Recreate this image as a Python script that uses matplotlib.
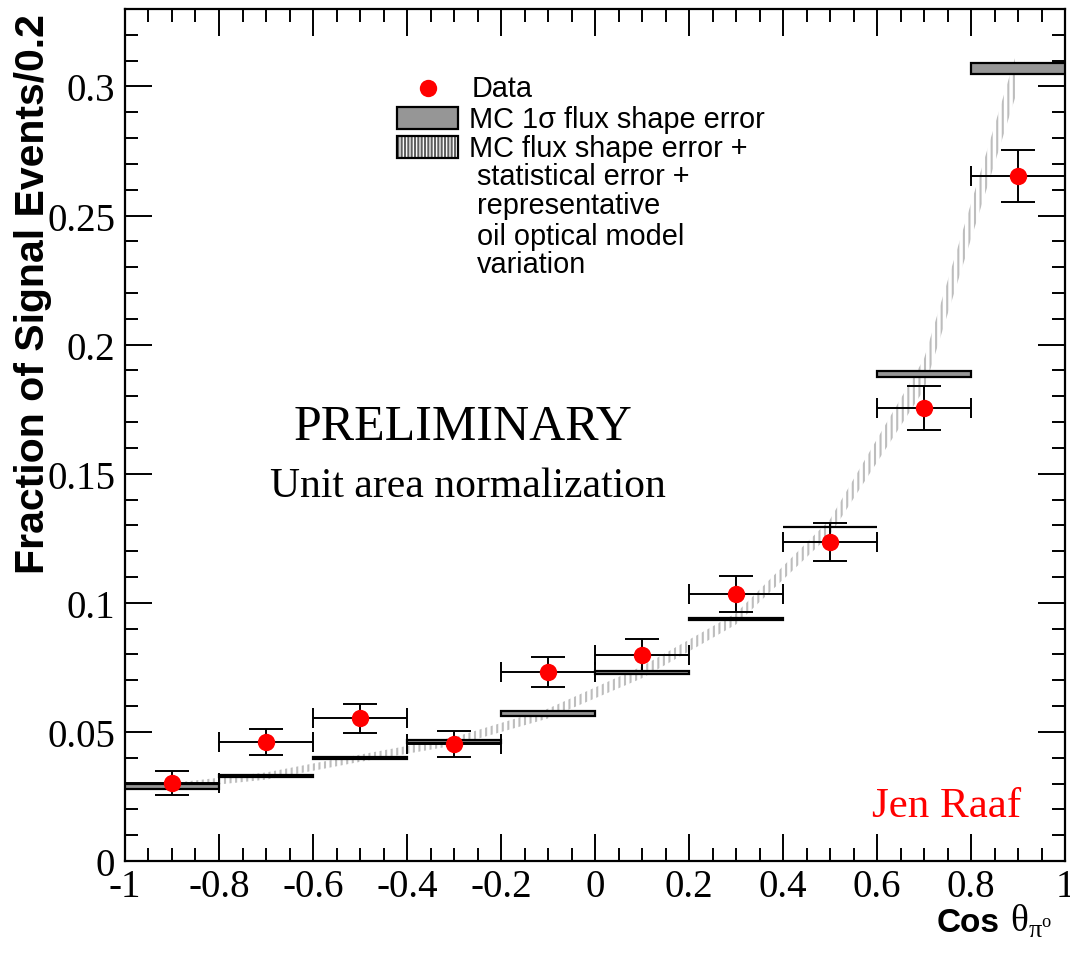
import matplotlib
matplotlib.use("Agg")
import matplotlib.pyplot as plt
from matplotlib.patches import Rectangle
from matplotlib.lines import Line2D
from matplotlib.ticker import MultipleLocator, FuncFormatter
import numpy as np

# Binning in cos(theta_pi0)
bin_edges = [-1.0, -0.8, -0.6, -0.4, -0.2, 0.0, 0.2, 0.4, 0.6, 0.8, 1.0]
bin_centers = [-0.9, -0.7, -0.5, -0.3, -0.1, 0.1, 0.3, 0.5, 0.7, 0.9]

# Data (fraction of signal events per 0.2)
data_vals = [0.0302, 0.0461, 0.0552, 0.0453, 0.0732, 0.0797, 0.1034, 0.1237, 0.1754, 0.2654]
data_errs = [0.0046, 0.0050, 0.0058, 0.0050, 0.0057, 0.0062, 0.0070, 0.0074, 0.0085, 0.0101]

# MC prediction with 1 sigma flux shape error
mc_vals = [0.0290, 0.0329, 0.0398, 0.0463, 0.0571, 0.0731, 0.0938, 0.1293, 0.1885, 0.3070]
mc_flux_errs = [0.0010, 0.0004, 0.0004, 0.0007, 0.0010, 0.0005, 0.0005, 0.0001, 0.0012, 0.0020]

# MC total error band (flux + stat + optical model)
mc_band_errs = [0.0012, 0.0014, 0.0014, 0.0016, 0.0019, 0.0023, 0.0022, 0.0030, 0.0060, 0.0078]

plt.rcParams['hatch.linewidth'] = 1.5

fig = plt.figure(figsize=(10.70, 9.54), dpi=100)
ax = fig.add_axes([125 / 1070, 1 - 862 / 954, 940 / 1070, 852 / 954])

# Hatched total-error band through the bin centres
mc_arr = np.array(mc_vals)
band_arr = np.array(mc_band_errs)
ax.fill_between(bin_centers, mc_arr - band_arr, mc_arr + band_arr,
                facecolor='none', edgecolor='#bdbdbd', linewidth=0,
                hatch='|||', zorder=2)

# MC flux-shape error boxes
widths = np.diff(bin_edges)
flux_arr = np.array(mc_flux_errs)
ax.bar(bin_edges[:-1], 2 * flux_arr, width=widths, bottom=mc_arr - flux_arr,
       align='edge', color='#969696', edgecolor='black', linewidth=1.6, zorder=3)

# Data points with errors
ax.errorbar(bin_centers, data_vals, xerr=0.1, fmt='none', ecolor='black',
            elinewidth=1.4, capsize=7, capthick=1.4, zorder=4)
ax.errorbar(bin_centers, data_vals, yerr=data_errs, fmt='none', ecolor='black',
            elinewidth=1.4, capsize=12, capthick=1.4, zorder=4)
ax.plot(bin_centers, data_vals, 'o', color='red', markersize=12.5,
        markeredgewidth=0, zorder=5)

# Axes styling
ax.set_xlim(-1, 1)
ax.set_ylim(0, 0.33)
ax.xaxis.set_major_locator(MultipleLocator(0.2))
ax.xaxis.set_minor_locator(MultipleLocator(0.05))
ax.yaxis.set_major_locator(MultipleLocator(0.05))
ax.yaxis.set_minor_locator(MultipleLocator(0.01))
fmt = FuncFormatter(lambda v, p: '%g' % round(v, 4))
ax.xaxis.set_major_formatter(fmt)
ax.yaxis.set_major_formatter(fmt)
ax.tick_params(which='both', direction='in', top=True, right=True, width=1.4,
               labelsize=28, labelfontfamily='Liberation Serif')
ax.tick_params(which='major', length=19.5)
ax.tick_params(which='minor', length=9.7)
ax.tick_params(axis='x', which='major', pad=5)
ax.tick_params(axis='y', which='major', pad=7)
for sp in ax.spines.values():
    sp.set_linewidth(1.6)

# Axis titles
fig.text(33 / 1070, 1 - 14 / 954, 'Fraction of Signal Events/0.2', rotation=90,
         ha='center', va='top', fontsize=29.5, fontweight='bold',
         family=['Liberation Sans Narrow', 'Liberation Sans', 'DejaVu Sans'])
fig.text(1000 / 1070, 1 - 932 / 954, 'Cos', ha='right', va='baseline',
         fontsize=24, fontweight='bold', family=['Liberation Sans', 'DejaVu Sans'])
fig.text(1010 / 1070, 1 - 932 / 954, r'θ$_{\mathregular{π}^{\mathregular{o}}}$',
         ha='left', va='baseline', fontsize=27,
         family=['Liberation Serif', 'DejaVu Serif'])

# Annotations
ax.text(0.3596, 0.4953, 'PRELIMINARY', transform=ax.transAxes, ha='center',
        va='baseline', fontsize=36, family='Liberation Serif')
ax.text(0.3649, 0.4284, 'Unit area normalization', transform=ax.transAxes,
        ha='center', va='baseline', fontsize=30, family='Liberation Serif')
ax.text(0.7947, 0.0528, 'Jen Raaf', transform=ax.transAxes, ha='left',
        va='baseline', fontsize=31, color='red', family='Liberation Serif')

# Legend
leg_font = dict(fontsize=20.8, family='Liberation Sans', va='baseline',
                transform=ax.transAxes)
ax.add_line(Line2D([0.3223], [0.9073], marker='o', color='red', markersize=12.5,
                   markeredgewidth=0, transform=ax.transAxes, zorder=6))
ax.text(0.3691, 0.8979, 'Data', **leg_font)
ax.add_patch(Rectangle((0.2894, 0.8592), 0.0649, 0.0258, transform=ax.transAxes,
                       facecolor='#969696', edgecolor='black', linewidth=1.6,
                       zorder=6))
ax.text(0.3660, 0.8615, 'MC 1σ flux shape error', **leg_font)
ax.add_patch(Rectangle((0.2894, 0.8251), 0.0649, 0.0259, transform=ax.transAxes,
                       facecolor='white', edgecolor='#606060', linewidth=0,
                       hatch='|||||', zorder=6))
ax.add_patch(Rectangle((0.2894, 0.8251), 0.0649, 0.0259, transform=ax.transAxes,
                       facecolor='none', edgecolor='black', linewidth=1.6,
                       zorder=7))
ax.text(0.3660, 0.8275, 'MC flux shape error +', **leg_font)
for txt, yy in [('statistical error +', 0.7946), ('representative', 0.7606),
                ('oil optical model', 0.7242), ('variation', 0.6913)]:
    ax.text(0.3745, yy, txt, **leg_font)

fig.savefig('out.png', dpi=100)
